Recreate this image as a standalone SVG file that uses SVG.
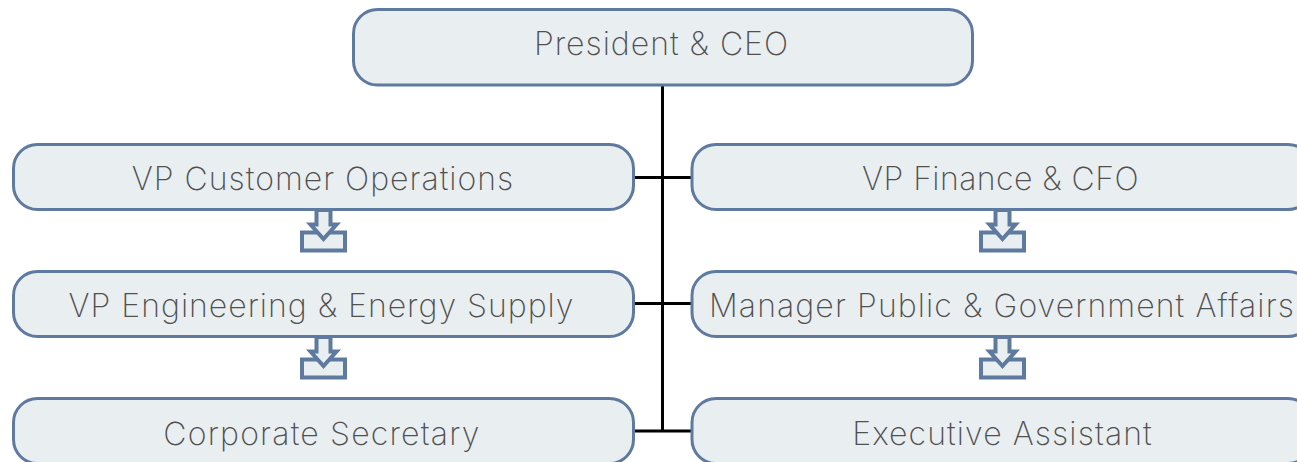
<svg xmlns="http://www.w3.org/2000/svg" width="1297" height="462" viewBox="0 0 1297 462">
<style>
.b{fill:#e9eef1;stroke:#5f7a9f;stroke-width:3}
.t{font-family:"Inter","Liberation Sans",sans-serif;font-weight:200;font-size:32px;letter-spacing:1px;fill:#505050;text-anchor:middle}
.c{stroke:#000;stroke-width:3;fill:none}
.a{fill:#e9eef1;stroke:#5f7a9f;stroke-width:4}
</style>
<defs>
<g id="dn"><rect class="a" x="-21.500" y="20.500" width="43" height="18"/><path class="a" d="M-7-2H7V12.500H13L0 27L-13 12.500H-7Z"/></g>
</defs>
<g id="connectors">
<path class="c" d="M662.500 85V431M634 177.500H692M634 303.500H692M634 431H692"/>
</g>
<g id="n0"><rect class="b" x="353.500" y="9.500" width="619" height="75.500" rx="24"/><text class="t" x="661.500" y="55">President &amp; CEO</text></g>
<g id="n1"><rect class="b" x="13.500" y="144.500" width="620" height="65" rx="24"/><text class="t" x="323" y="190">VP Customer Operations</text></g>
<g id="n2"><rect class="b" x="13.500" y="271.500" width="620" height="65" rx="24"/><text class="t" x="321.500" y="317">VP Engineering &amp; Energy Supply</text></g>
<g id="n3"><rect class="b" x="13.500" y="398.500" width="620" height="65" rx="24"/><text class="t" x="322" y="445" style="letter-spacing:1.2px">Corporate Secretary</text></g>
<g id="n4"><rect class="b" x="692" y="144.500" width="620" height="65" rx="24"/><text class="t" x="1000.500" y="190" style="letter-spacing:.45px">VP Finance &amp; CFO</text></g>
<g id="n5"><rect class="b" x="692" y="271.500" width="620" height="65" rx="24"/><text class="t" x="1002" y="317" style="letter-spacing:1.1px">Manager Public &amp; Government Affairs</text></g>
<g id="n6"><rect class="b" x="692" y="398.500" width="620" height="65" rx="24"/><text class="t" x="1002.500" y="445" style="letter-spacing:1.1px">Executive Assistant</text></g>
<g id="a1"><use href="#dn" x="323.500" y="212"/></g>
<g id="a2"><use href="#dn" x="323.500" y="339"/></g>
<g id="a3"><use href="#dn" x="1002.500" y="212"/></g>
<g id="a4"><use href="#dn" x="1002.500" y="339"/></g>
</svg>
